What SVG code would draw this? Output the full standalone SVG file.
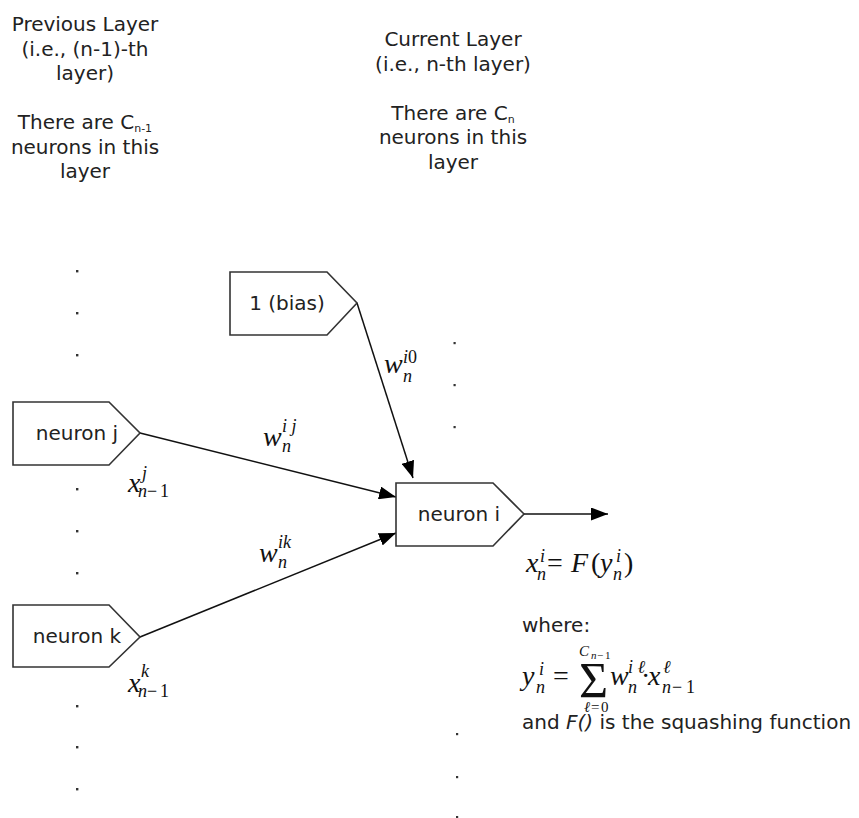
<svg xmlns="http://www.w3.org/2000/svg" width="859" height="818" viewBox="0 0 859 818">
  <style>
    .lbl { font-family: "DejaVu Sans", Verdana, sans-serif; font-size: 20px; fill: #222; }
    .ctr { text-anchor: middle; }
    .sub { font-size: 11px; }
    .node { fill: #fff; stroke: #333; stroke-width: 1.6; }
    .edge { stroke: #111; stroke-width: 1.5; fill: none; }
    .m { font-family: "Liberation Serif", "Times New Roman", serif; fill: #111; }
    .mi { font-family: "Liberation Serif", "Times New Roman", serif; font-style: italic; fill: #111; }
    .big { font-size: 28px; }
    .scr { font-size: 18px; }
    .tiny { font-size: 15px; }
    .dot { fill: #333; }
  </style>
  <defs>
    <marker id="arrow" markerUnits="userSpaceOnUse" markerWidth="17" markerHeight="13" refX="17" refY="6.5" orient="auto">
      <path d="M0,0 L17,6.5 L0,13 z" fill="#000"/>
    </marker>
  </defs>

  <rect width="859" height="818" fill="#fff"/>

  <!-- layer headings -->
  <g id="prev-layer-title" class="lbl ctr">
    <text x="85" y="31">Previous Layer</text>
    <text x="85" y="55.5">(i.e., (n-1)-th</text>
    <text x="85" y="80">layer)</text>
    <text x="85" y="129">There are C<tspan class="sub" dy="3">n-1</tspan></text>
    <text x="85" y="153.5">neurons in this</text>
    <text x="85" y="178">layer</text>
  </g>
  <g id="curr-layer-title" class="lbl ctr">
    <text x="453" y="46">Current Layer</text>
    <text x="453" y="70.5">(i.e., n-th layer)</text>
    <text x="453" y="119.5">There are C<tspan class="sub" dy="3">n</tspan></text>
    <text x="453" y="144">neurons in this</text>
    <text x="453" y="168.5">layer</text>
  </g>

  <!-- ellipsis dots -->
  <g id="dots" class="dot">
    <rect x="76" y="270" width="2.4" height="2.4"/>
    <rect x="76" y="312" width="2.4" height="2.4"/>
    <rect x="76" y="354" width="2.4" height="2.4"/>
    <rect x="76" y="488" width="2.4" height="2.4"/>
    <rect x="76" y="530" width="2.4" height="2.4"/>
    <rect x="76" y="572" width="2.4" height="2.4"/>
    <rect x="76" y="705" width="2.4" height="2.4"/>
    <rect x="76" y="746" width="2.4" height="2.4"/>
    <rect x="76" y="788" width="2.4" height="2.4"/>
    <rect x="453.5" y="342" width="2.2" height="2.2"/>
    <rect x="453.5" y="384" width="2.2" height="2.2"/>
    <rect x="453.5" y="426" width="2.2" height="2.2"/>
    <rect x="456" y="733" width="2.2" height="2.2"/>
    <rect x="456" y="776" width="2.2" height="2.2"/>
    <rect x="456" y="816" width="2.2" height="2.2"/>
  </g>

  <!-- connectors -->
  <g id="connectors">
    <line class="edge" x1="357" y1="303" x2="413" y2="478" marker-end="url(#arrow)"/>
    <line class="edge" x1="140" y1="433" x2="396" y2="497" marker-end="url(#arrow)"/>
    <line class="edge" x1="140" y1="637" x2="396" y2="533" marker-end="url(#arrow)"/>
    <line class="edge" x1="524" y1="514" x2="608" y2="514" marker-end="url(#arrow)"/>
  </g>

  <!-- nodes -->
  <g id="bias">
    <polygon class="node" points="230,272 327,272 357,303 327,335 230,335"/>
    <text class="lbl ctr" x="287" y="310">1 (bias)</text>
  </g>
  <g id="neuron-j">
    <polygon class="node" points="13,402 109,402 140,433 109,465 13,465"/>
    <text class="lbl ctr" x="77" y="440">neuron j</text>
  </g>
  <g id="neuron-k">
    <polygon class="node" points="13,605 109,605 140,637 109,667 13,667"/>
    <text class="lbl ctr" x="77" y="643">neuron k</text>
  </g>
  <g id="neuron-i">
    <polygon class="node" points="396,483 493,483 524,514 493,546 396,546"/>
    <text class="lbl ctr" x="459" y="521">neuron i</text>
  </g>

  <!-- weight and activation labels -->
  <g id="label-w-i0">
    <text class="mi big" x="384" y="373">w</text>
    <text class="scr" x="403" y="363"><tspan class="mi">i</tspan><tspan class="m">0</tspan></text>
    <text class="mi scr" x="403" y="382">n</text>
  </g>
  <g id="label-w-ij">
    <text class="mi big" x="263" y="446">w</text>
    <text class="mi scr" x="282" y="432">i j</text>
    <text class="mi scr" x="282" y="452">n</text>
  </g>
  <g id="label-w-ik">
    <text class="mi big" x="259" y="562">w</text>
    <text class="mi scr" x="278" y="548">ik</text>
    <text class="mi scr" x="278" y="568">n</text>
  </g>
  <g id="label-x-j">
    <text class="mi big" x="128" y="492">x</text>
    <text class="mi scr" x="142" y="479">j</text>
    <text class="scr" y="497"><tspan class="mi" x="138">n</tspan><tspan class="m" x="147">−</tspan><tspan class="m" x="160">1</tspan></text>
  </g>
  <g id="label-x-k">
    <text class="mi big" x="128" y="692">x</text>
    <text class="mi scr" x="141" y="677">k</text>
    <text class="scr" y="697"><tspan class="mi" x="138">n</tspan><tspan class="m" x="147">−</tspan><tspan class="m" x="160">1</tspan></text>
  </g>

  <!-- output equation -->
  <g id="output-eq">
    <text class="mi big" x="526" y="572">x</text>
    <text class="mi scr" x="540" y="562">i</text>
    <text class="mi scr" x="537" y="580">n</text>
    <text class="m big" x="547" y="572">=</text>
    <text class="mi big" x="571" y="572">F</text>
    <text class="m big" x="591" y="572">(</text>
    <text class="mi big" x="600" y="572">y</text>
    <text class="mi scr" x="616" y="562">i</text>
    <text class="mi scr" x="613" y="580">n</text>
    <text class="m big" x="624" y="572">)</text>
  </g>

  <g id="where-text">
    <text class="lbl" x="522" y="632">where:</text>
    <text class="lbl" x="522" y="729">and <tspan font-style="italic">F()</tspan> is the squashing function</text>
  </g>

  <g id="sum-eq">
    <text class="mi big" x="522" y="685">y</text>
    <text class="mi scr" x="539" y="675">i</text>
    <text class="mi scr" x="536" y="693">n</text>
    <text class="m big" x="553" y="685">=</text>
    <text class="m" font-size="50" x="579" y="697">Σ</text>
    <text class="mi tiny" x="579" y="656">C</text>
    <text font-size="11" y="659"><tspan class="mi" x="591">n</tspan><tspan class="m" x="597">−</tspan><tspan class="m" x="605">1</tspan></text>
    <text class="tiny" y="712"><tspan class="mi" x="584">ℓ</tspan><tspan class="m" x="591">=</tspan><tspan class="m" x="601">0</tspan></text>
    <text class="mi big" x="610" y="685">w</text>
    <text class="mi scr" x="628" y="673">i ℓ</text>
    <text class="mi scr" x="628" y="693">n</text>
    <text class="m big" x="641" y="685">·</text>
    <text class="mi big" x="648" y="685">x</text>
    <text class="mi scr" x="663" y="673">ℓ</text>
    <text class="scr" y="693"><tspan class="mi" x="662">n</tspan><tspan class="m" x="672">−</tspan><tspan class="m" x="686">1</tspan></text>
  </g>
</svg>
